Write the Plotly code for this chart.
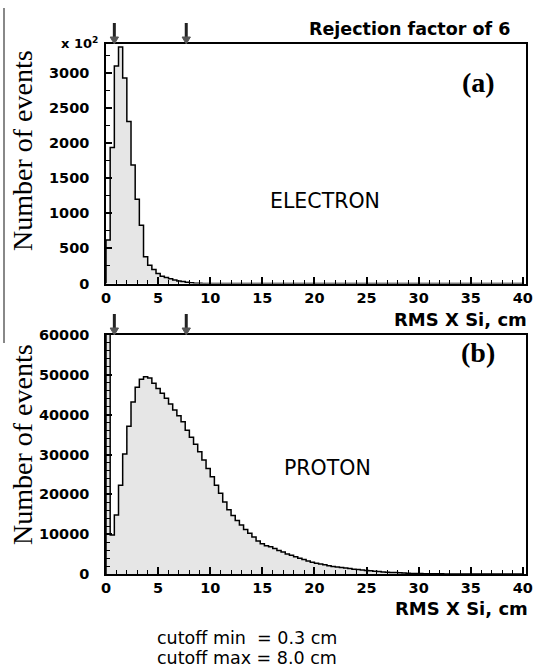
import numpy as np
import plotly.graph_objects as go

# ---------------- data ----------------
bin_width = 0.4  # cm
n_bins = 100

# electron histogram, counts in units of 10^2 (0.4 cm bins from 0 to 40 cm)
electron_counts = [
    620, 1940, 3100, 3370, 2930, 2310, 1690, 1200, 830, 380,
    261, 200, 143, 104, 86, 66, 50, 37, 28, 18,
    10, 5, 2, 1, 0, 0, 0, 0, 0, 0,
    0, 0, 0, 0, 0, 0, 0, 0, 0, 0,
    0, 0, 0, 0, 0, 0, 0, 0, 0, 0,
    0, 0, 0, 0, 0, 0, 0, 0, 0, 0,
    0, 0, 0, 0, 0, 0, 0, 0, 0, 0,
    0, 0, 0, 0, 0, 0, 0, 0, 0, 0,
    0, 0, 0, 0, 0, 0, 0, 0, 0, 0,
    0, 0, 0, 0, 0, 0, 0, 0, 0, 0,
]

# proton histogram, counts (first bin is off scale)
proton_counts = [
    70000, 9800, 14800, 22300, 30100, 37100, 43200, 46900, 48900, 49500,
    49200, 47900, 46600, 45400, 44100, 42700, 41200, 39700, 38200, 36100,
    34300, 32600, 30700, 28600, 26500, 24400, 22300, 20300, 18100, 16100,
    14700, 13400, 12300, 11200, 10200, 9300, 8300, 7600, 7100, 6850,
    6400, 5900, 5500, 5000, 4700, 4300, 3950, 3650, 3250, 2950,
    2700, 2500, 2300, 2050, 1900, 1750, 1650, 1500, 1350, 1200,
    1100, 1000, 900, 820, 700, 600, 520, 440, 400, 360,
    320, 260, 190, 150, 120, 100, 80, 60, 50, 40,
    35, 30, 25, 20, 18, 15, 12, 10, 8, 5,
    3, 2, 2, 1, 1, 0, 0, 0, 0, 0,
]

x_tick_vals = [0, 5, 10, 15, 20, 25, 30, 35, 40]
x_tick_text = ["0", "5", "10", "15", "20", "25", "30", "35", "40"]
electron_y_ticks = [0, 500, 1000, 1500, 2000, 2500, 3000]
electron_y_text = ["0", "500", "1000", "1500", "2000", "2500", "3000"]
proton_y_ticks = [0, 10000, 20000, 30000, 40000, 50000, 60000]
proton_y_text = ["0", "10000", "20000", "30000", "40000", "50000", "60000"]
cutoff_arrow_x = [0.8, 7.7]  # arrow marks as drawn in the picture
cutoff_lines = ["cutoff min&nbsp; = 0.3 cm", "cutoff max = 8.0 cm"]

# ---------------- geometry ----------------
W, H = 536, 672
def px(x):
    return x / W
def py(y):
    return 1 - y / H

X_DOM = [px(106), px(526)]
X_RANGE = [0, 40.3]
TOP_DOM = [py(283.5), py(44)]
BOT_DOM = [py(574), py(335)]

left_edges = np.arange(n_bins) * bin_width
centers = left_edges + bin_width / 2
edges = np.append(left_edges, n_bins * bin_width)

FILL = "#e6e6e6"
tick_font = dict(family="DejaVu Sans", size=14.5, color="black", weight="bold")

fig = go.Figure()

def add_hist(counts, xa, ya):
    fig.add_trace(go.Bar(
        x=centers, y=counts, width=bin_width,
        marker=dict(color=FILL, line=dict(width=0)),
        xaxis=xa, yaxis=ya, showlegend=False, hoverinfo="skip",
    ))
    sx = [0.0] + list(edges)
    sy = [0] + list(counts) + [counts[-1]]
    fig.add_trace(go.Scatter(
        x=sx, y=sy, mode="lines", line=dict(color="black", width=1.5, shape="hv"),
        xaxis=xa, yaxis=ya, showlegend=False, hoverinfo="skip",
    ))

add_hist(electron_counts, "x", "y")
add_hist(proton_counts, "x2", "y2")

def xaxis_cfg(anchor):
    return dict(
        domain=X_DOM, range=X_RANGE, anchor=anchor, automargin=False,
        showline=True, mirror=True, linecolor="black", linewidth=1.5,
        ticks="inside", ticklen=7, tickwidth=1.5, tickcolor="black",
        tickvals=x_tick_vals, ticktext=x_tick_text, tickfont=tick_font,
        minor=dict(dtick=1, tick0=0, ticks="inside", ticklen=4, tickwidth=1.2, tickcolor="black"),
        showgrid=False, zeroline=False, fixedrange=True,
    )

def yaxis_cfg(anchor, dom, rng, tv, tt, minor_dt):
    return dict(
        domain=dom, range=rng, anchor=anchor, automargin=False,
        showline=True, mirror=True, linecolor="black", linewidth=1.5,
        ticks="inside", ticklen=6, tickwidth=1.5, tickcolor="black",
        tickvals=tv, ticktext=tt, tickfont=tick_font, ticklabelstandoff=12,
        minor=dict(dtick=minor_dt, tick0=0, ticks="inside", ticklen=4, tickwidth=1.2, tickcolor="black"),
        showgrid=False, zeroline=False, fixedrange=True,
    )

fig.update_layout(
    width=W, height=H,
    margin=dict(l=0, r=0, t=0, b=0, pad=0),
    paper_bgcolor="white", plot_bgcolor="white",
    bargap=0,
    xaxis=xaxis_cfg("y"),
    yaxis=yaxis_cfg("x", TOP_DOM, [0, 3414], electron_y_ticks, electron_y_text, 250),
    xaxis2=xaxis_cfg("y2"),
    yaxis2=yaxis_cfg("x2", BOT_DOM, [0, 60000], proton_y_ticks, proton_y_text, 2000),
)

ann = []
def text(x, y, s, size, family="DejaVu Sans", weight="normal", xanchor="center", angle=0):
    ann.append(dict(
        x=px(x), y=py(y), xref="paper", yref="paper", text=s, showarrow=False,
        xanchor=xanchor, yanchor="middle", textangle=angle,
        font=dict(family=family, size=size, color="black", weight=weight),
    ))

text(512, 29, "Rejection factor of 6", 17.5, weight="bold", xanchor="right")
text(59, 43, "x 10<sup>2</sup>", 13, weight="bold", xanchor="left")
text(478, 82, "(a)", 28, family="Liberation Serif", weight="bold")
text(478, 352, "(b)", 28, family="Liberation Serif", weight="bold")
text(325, 201, "ELECTRON", 20.5)
text(327, 468, "PROTON", 20.5)
text(529, 319, "RMS X Si, cm", 18, weight="bold", xanchor="right")
text(530, 608, "RMS X Si, cm", 18, weight="bold", xanchor="right")
text(22, 151, "Number of events", 28, family="Liberation Serif", angle=-90)
text(22, 445, "Number of events", 28, family="Liberation Serif", angle=-90)
text(155, 638, cutoff_lines[0], 17.5, xanchor="left")
text(155, 658, cutoff_lines[1], 17.5, xanchor="left")
fig.update_layout(annotations=ann)

# cutoff arrows above each panel (shaft + head)
for xa, top_px in (("x", 44), ("x2", 335)):
    for cx in cutoff_arrow_x:
        fig.add_shape(type="line", xref=xa, yref="paper",
                      x0=cx, x1=cx, y0=py(top_px - 21), y1=py(top_px - 5),
                      line=dict(color="#222", width=3))
        fig.add_shape(type="path", xref=xa, yref="paper",
                      path=f"M {cx-0.4},{py(top_px - 7)} L {cx+0.4},{py(top_px - 7)} L {cx},{py(top_px)} Z",
                      fillcolor="#555", line=dict(color="#555", width=1))

# thin gray rule at the far left of the figure
fig.add_shape(type="line", xref="paper", yref="paper",
              x0=px(4), x1=px(4), y0=py(8), y1=py(343),
              line=dict(color="#888", width=2))

fig.write_html(
    "out.html",
    config={"displayModeBar": False},
    post_script="document.body.style.margin='0px';document.body.style.overflow='hidden';",
)
